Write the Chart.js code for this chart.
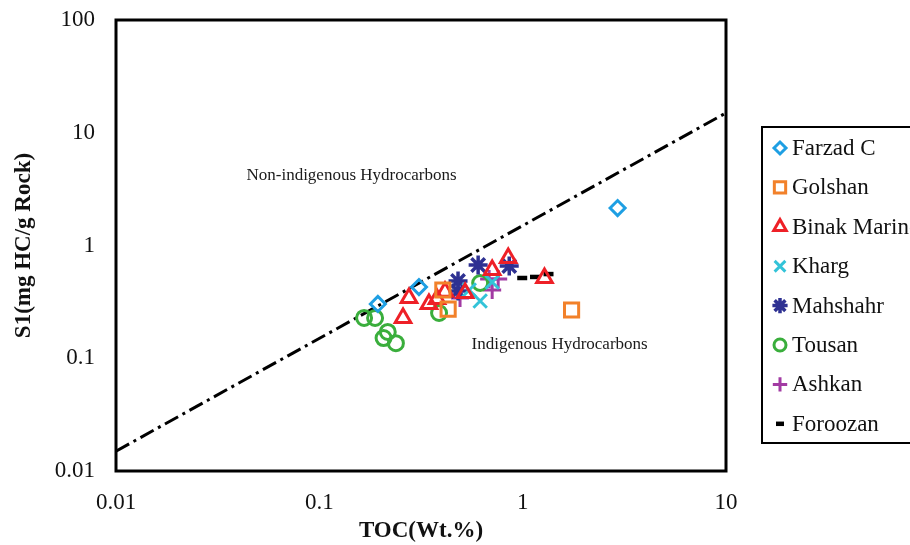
<!DOCTYPE html>
<html>
<head>
<meta charset="utf-8">
<script src="https://cdn.jsdelivr.net/npm/chart.js@4/dist/chart.umd.min.js"></script>
<style>
  html, body { margin:0; padding:0; background:#fff; }
</style>
</head>
<body>
<canvas id="toc-s1" width="910" height="545"></canvas>
<script>
// TOC vs S1 (log-log)
const xTicks = [0.01, 0.1, 1, 10];
const xTickLabels = ['0.01', '0.1', '1', '10'];
const yTicks = [0.01, 0.1, 1, 10, 100];
const yTickLabels = ['0.01', '0.1', '1', '10', '100'];

const seriesNames = ['Farzad C', 'Golshan', 'Binak Marine', 'Kharg', 'Mahshahr', 'Tousan', 'Ashkan', 'Foroozan'];

const farzadToc = [0.194, 0.309, 2.93];
const farzadS1  = [0.303, 0.428, 2.15];
const golshanToc = [0.405, 0.43, 1.74];
const golshanS1  = [0.403, 0.273, 0.268];
const binakToc = [0.276, 0.258, 0.346, 0.379, 0.415, 0.521, 0.708, 0.849, 1.28];
const binakS1  = [0.342, 0.228, 0.303, 0.336, 0.388, 0.379, 0.607, 0.775, 0.515];
const khargToc = [0.546, 0.618, 0.708];
const khargS1  = [0.403, 0.322, 0.474];
const mahshahrToc = [0.481, 0.481, 0.604, 0.859];
const mahshahrS1  = [0.484, 0.394, 0.671, 0.658];
const tousanToc = [0.166, 0.188, 0.217, 0.207, 0.238, 0.388, 0.618];
const tousanS1  = [0.228, 0.228, 0.171, 0.151, 0.136, 0.252, 0.465];
const ashkanToc = [0.492, 0.684, 0.758, 0.708];
const ashkanS1  = [0.342, 0.505, 0.505, 0.403];
const foroozanToc = [0.995, 1.15, 1.34];
const foroozanS1  = [0.515, 0.526, 0.558];

// dash-dot boundary line
const boundaryToc = [0.01, 10];
const boundaryS1  = [0.015, 15];

const zoneLabels = ['Non-indigenous Hydrocarbons', 'Indigenous Hydrocarbons'];
const zoneToc = [0.144, 1.52];
const zoneS1  = [4.2, 0.131];

const SERIF = '"Liberation Serif", "Times New Roman", serif';

function pts(xs, ys) { return xs.map((x, i) => ({ x, y: ys[i] })); }

function series(i, xs, ys, color, style, radius, bw) {
  return {
    label: seriesNames[i], data: pts(xs, ys),
    showLine: false, pointStyle: style, pointRadius: radius, pointHoverRadius: radius,
    pointBorderColor: color, pointBackgroundColor: 'rgba(0,0,0,0)', pointBorderWidth: bw || 3,
    borderColor: color, backgroundColor: 'rgba(0,0,0,0)'
  };
}

const datasets = [
  series(0, farzadToc, farzadS1, '#1E9FE3', 'rectRot', 7.5),
  series(1, golshanToc, golshanS1, '#F2812A', 'rect', 10),
  series(2, binakToc, binakS1, '#EE2027', 'triangle', 9),
  series(3, khargToc, khargS1, '#33C3D8', 'crossRot', 9.5),
  series(4, mahshahrToc, mahshahrS1, '#2E3192', 'star', 9.5, 3.5),
  series(5, tousanToc, tousanS1, '#3AAE3C', 'circle', 7.5),
  series(6, ashkanToc, ashkanS1, '#A23BA3', 'cross', 9),
  series(7, foroozanToc, foroozanS1, '#000000', 'line', 5, 4.5),
  {
    label: 'boundary', data: pts(boundaryToc, boundaryS1), showLine: true,
    borderColor: '#000', borderWidth: 3, borderDash: [15, 5, 3, 5],
    pointRadius: 0, pointHoverRadius: 0, fill: false
  }
];

// frame round the plot area
const framePlugin = {
  id: 'frame',
  afterDatasetsDraw(chart) {
    const a = chart.chartArea, ctx = chart.ctx;
    ctx.save();
    ctx.strokeStyle = '#000';
    ctx.lineWidth = 3;
    ctx.strokeRect(a.left, a.top, a.right - a.left, a.bottom - a.top);
    ctx.restore();
  }
};

// zone captions, placed through the scales
const zonePlugin = {
  id: 'zones',
  afterDatasetsDraw(chart) {
    const ctx = chart.ctx, xs = chart.scales.x, ys = chart.scales.y;
    ctx.save();
    ctx.font = '17px ' + SERIF;
    ctx.fillStyle = '#1a1a1a';
    ctx.textAlign = 'center';
    ctx.textBaseline = 'middle';
    zoneLabels.forEach((t, i) => {
      ctx.fillText(t, xs.getPixelForValue(zoneToc[i]), ys.getPixelForValue(zoneS1[i]));
    });
    ctx.restore();
  }
};

// boxed legend at the right, cut by the canvas edge like the original
const legendPlugin = {
  id: 'boxLegend',
  afterDraw(chart) {
    const ctx = chart.ctx;
    const left = 762, top = 127, rowH = 39.4, firstY = 148;
    ctx.save();
    ctx.strokeStyle = '#000';
    ctx.lineWidth = 2;
    ctx.strokeRect(left, top, 200, 316);
    ctx.font = '23px ' + SERIF;
    ctx.fillStyle = '#111';
    ctx.textBaseline = 'middle';
    ctx.textAlign = 'left';
    seriesNames.forEach((name, i) => {
      const ds = chart.data.datasets[i];
      const y = firstY + i * rowH;
      ctx.save();
      ctx.strokeStyle = ds.pointBorderColor;
      ctx.fillStyle = 'rgba(0,0,0,0)';
      ctx.lineWidth = ds.pointBorderWidth;
      Chart.helpers.drawPoint(ctx, {
        pointStyle: ds.pointStyle, radius: ds.pointRadius * 0.8,
        rotation: 0, borderWidth: ds.pointBorderWidth
      }, 780, y);
      ctx.restore();
      ctx.fillText(name, 792, y + 1);
    });
    ctx.restore();
  }
};

new Chart(document.getElementById('toc-s1'), {
  type: 'scatter',
  data: { datasets },
  options: {
    responsive: false,
    animation: false,
    layout: { padding: { top: 20, right: 184, left: 0, bottom: 0 } },
    plugins: { legend: { display: false }, tooltip: { enabled: false } },
    scales: {
      x: {
        type: 'logarithmic', min: 0.01, max: 10,
        grid: { display: false, drawTicks: false }, border: { display: false },
        afterBuildTicks(s) { s.ticks = xTicks.map(v => ({ value: v })); },
        afterFit(s) { s.height = 74; s.paddingLeft = 0; s.paddingRight = 0; },
        ticks: {
          color: '#111', padding: 18, maxRotation: 0, autoSkip: false,
          font: { family: SERIF, size: 23 },
          callback: v => xTickLabels[xTicks.indexOf(v)]
        },
        title: {
          display: true, text: 'TOC(Wt.%)', color: '#111',
          font: { family: SERIF, size: 23, weight: 'bold' }, padding: { top: 0, bottom: 0 }
        }
      },
      y: {
        type: 'logarithmic', min: 0.01, max: 100,
        grid: { display: false, drawTicks: false }, border: { display: false },
        afterBuildTicks(s) { s.ticks = yTicks.map(v => ({ value: v })); },
        afterFit(s) { s.width = 116; s.paddingTop = 0; s.paddingBottom = 0; },
        ticks: {
          color: '#111', padding: 21, autoSkip: false,
          font: { family: SERIF, size: 23 },
          callback: v => yTickLabels[yTicks.indexOf(v)]
        },
        title: {
          display: true, text: 'S1(mg HC/g Rock)', color: '#111',
          font: { family: SERIF, size: 23, weight: 'bold' }, padding: { top: 10, bottom: 0 }
        }
      }
    }
  },
  plugins: [framePlugin, zonePlugin, legendPlugin]
});
</script>
</body>
</html>
